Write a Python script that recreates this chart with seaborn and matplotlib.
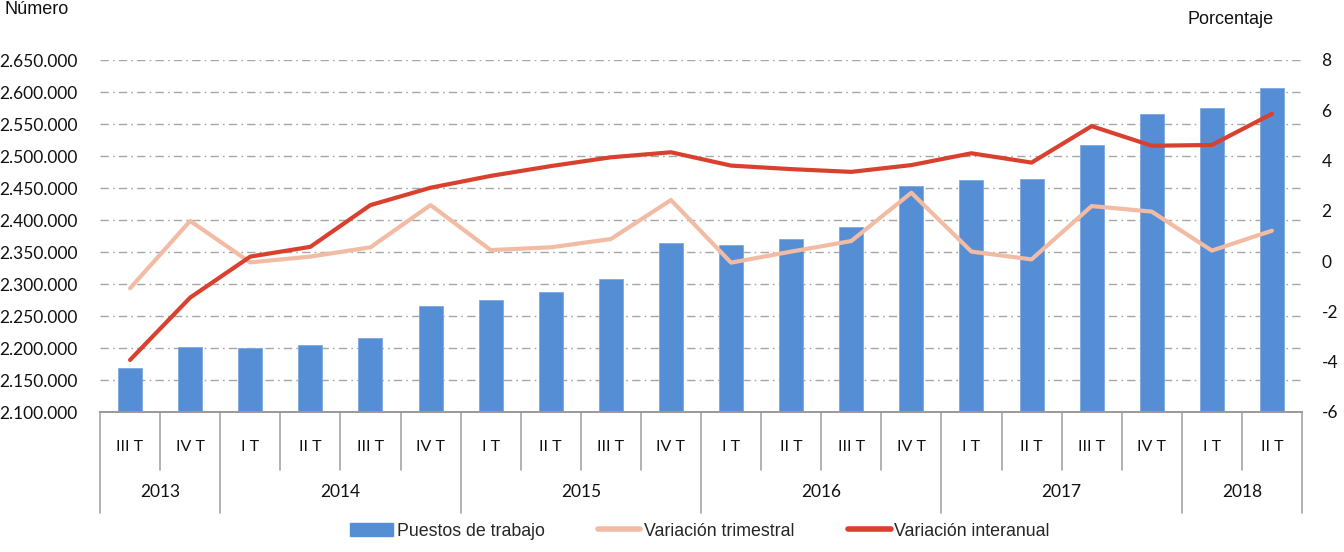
import numpy as np
import pandas as pd
import matplotlib
matplotlib.use("Agg")
import matplotlib.pyplot as plt
import matplotlib.transforms as mtransforms
from matplotlib.ticker import FuncFormatter, FixedLocator
from matplotlib.lines import Line2D
from matplotlib.patches import Patch
import seaborn as sns

quarters = ["III T", "IV T",
            "I T", "II T", "III T", "IV T",
            "I T", "II T", "III T", "IV T",
            "I T", "II T", "III T", "IV T",
            "I T", "II T", "III T", "IV T",
            "I T", "II T"]
years = ["2013", "2014", "2015", "2016", "2017", "2018"]
year_counts = [2, 4, 4, 4, 4, 2]

puestos = [2168500, 2202000, 2200500, 2204500, 2216000, 2265500,
           2275000, 2287500, 2307500, 2363500, 2361000, 2370000,
           2389000, 2453500, 2462000, 2463500, 2516500, 2565000,
           2575500, 2606500]
var_trimestral = [-1.08, 1.60, -0.05, 0.18, 0.55, 2.23,
                  0.44, 0.55, 0.88, 2.43, -0.06, 0.38,
                  0.80, 2.72, 0.38, 0.07, 2.19, 1.97,
                  0.42, 1.21]
var_interanual = [-3.93, -1.45, 0.18, 0.57, 2.23, 2.92,
                  3.39, 3.78, 4.13, 4.33, 3.80, 3.66,
                  3.55, 3.82, 4.29, 3.92, 5.37, 4.59,
                  4.62, 5.86]

left_ticks = [2100000 + 50000 * i for i in range(12)]
right_ticks = [-6, -4, -2, 0, 2, 4, 6, 8]

BLUE = "#558ED5"
PEACH = "#F2BBA4"
RED = "#D9402E"
GRID = "#A6A6A6"

sns.set_theme(style="white")
plt.rcParams["font.family"] = ["Liberation Sans", "DejaVu Sans"]
plt.rcParams["axes.unicode_minus"] = False

n = len(quarters)
keys = [f"{q} {i}" for i, q in enumerate(quarters)]
df = pd.DataFrame({"key": keys, "idx": np.arange(n), "puestos": puestos,
                   "trim": var_trimestral, "inter": var_interanual})

fig = plt.figure(figsize=(13.44, 5.52), dpi=100)
ax = fig.add_axes([100 / 1344, 1 - 412 / 552, 1202 / 1344, 352 / 552])

sns.barplot(data=df, x="key", y="puestos", color=BLUE, width=0.4,
            saturation=1, edgecolor="#7FA8E0", linewidth=0.6, ax=ax, zorder=2)
ax.set_xlim(-0.5, n - 0.5)
ax.set_ylim(left_ticks[0], left_ticks[-1])
ax.yaxis.set_major_locator(FixedLocator(left_ticks))
ax.yaxis.set_major_formatter(FuncFormatter(lambda v, p: f"{v:,.0f}".replace(",", ".")))
ax.set_xticks([])
ax.set_xlabel("")
ax.set_ylabel("")
ax.set_axisbelow(True)
ax.yaxis.grid(True, color=GRID, linewidth=1.0, linestyle=(0, (6, 3, 1.2, 3)))
for s in ["left", "right", "top"]:
    ax.spines[s].set_visible(False)
ax.spines["bottom"].set_color("#999999")
ax.spines["bottom"].set_linewidth(1.4)
ax.tick_params(axis="y", length=0, pad=16, labelsize=12.5, colors="#111111")
for t in ax.get_yticklabels():
    t.set_fontfamily(["Lato", "DejaVu Sans"])

ax2 = ax.twinx()
sns.lineplot(data=df, x="idx", y="trim", color=PEACH, linewidth=3.0, ax=ax2,
             sort=False)
sns.lineplot(data=df, x="idx", y="inter", color=RED, linewidth=3.0, ax=ax2,
             sort=False)
ax2.set_xlim(-0.5, n - 0.5)
ax2.set_ylim(right_ticks[0], right_ticks[-1])
ax2.yaxis.set_major_locator(FixedLocator(right_ticks))
ax2.set_xlabel("")
ax2.set_ylabel("")
for s in ["left", "right", "top", "bottom"]:
    ax2.spines[s].set_visible(False)
ax2.tick_params(axis="y", length=0, pad=14, labelsize=12.5, colors="#111111")
for t in ax2.get_yticklabels():
    t.set_fontfamily(["Lato", "DejaVu Sans"])
ax2.grid(False)

# two-level category axis
trans = mtransforms.blended_transform_factory(ax.transData, ax.transAxes)
q_bottom = -0.165
y_bottom = -0.287
for i, q in enumerate(quarters):
    ax.text(i, -0.10, q, transform=trans, ha="center", va="center",
            fontsize=11.5, family=["Lato", "DejaVu Sans"],
            color="#111111")
bounds = np.cumsum([0] + year_counts) - 0.5
for i in range(n + 1):
    x = i - 0.5
    yb = y_bottom if x in bounds else q_bottom
    ax.add_line(Line2D([x, x], [0, yb], transform=trans, color="#A6A6A6",
                       linewidth=1.2, clip_on=False))
for k, yr in enumerate(years):
    xc = (bounds[k] + bounds[k + 1]) / 2
    ax.text(xc, -0.227, yr, transform=trans, ha="center", va="center",
            fontsize=12.5, family=["Lato", "DejaVu Sans"],
            color="#111111")

fig.text(5 / 1344, 1 - 9 / 552, "Número", ha="left", va="center", fontsize=13,
         color="#111111")
fig.text(1274 / 1344, 1 - 20 / 552, "Porcentaje", ha="right", va="center",
         fontsize=13, color="#111111")

handles = [Patch(facecolor=BLUE, edgecolor=BLUE),
           Line2D([], [], color=PEACH, linewidth=4),
           Line2D([], [], color=RED, linewidth=4)]
labels = ["Puestos de trabajo", "Variación trimestral", "Variación interanual"]
fig.legend(handles, labels, loc="center", bbox_to_anchor=(700 / 1344, 1 - 531 / 552),
           ncol=3, frameon=False, handlelength=2.4, handleheight=0.8,
           handletextpad=0.2, columnspacing=3.0,
           prop={"family": ["Liberation Sans", "DejaVu Sans"], "size": 12.8})

fig.savefig("out.png", dpi=100)
